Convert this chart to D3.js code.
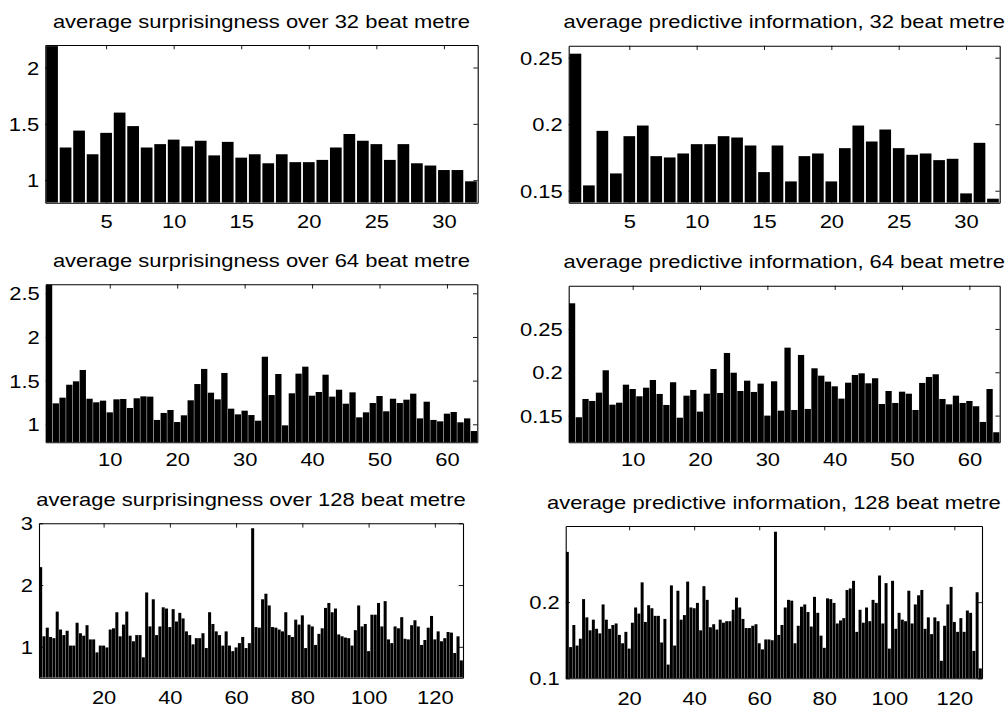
<!DOCTYPE html>
<html>
<head>
<meta charset="utf-8">
<script src="https://cdn.jsdelivr.net/npm/d3@7"></script>
<style>
  body { margin: 0; background: #fff; }
  svg { display: block; }
</style>
</head>
<body>
<svg id="fig" width="1008" height="709"></svg>
<script>
// Average surprisingness and predictive information per metrical position
const surprise32 = [2.19, 1.29, 1.44, 1.23, 1.42, 1.60, 1.48, 1.29, 1.32, 1.36, 1.30, 1.35, 1.22, 1.34, 1.20, 1.23,
  1.15, 1.23, 1.16, 1.16, 1.18, 1.29, 1.41, 1.35, 1.32, 1.18, 1.32, 1.15, 1.13, 1.09, 1.09, 0.99];

const predInfo32 = [0.253, 0.154, 0.195, 0.163, 0.191, 0.199, 0.176, 0.175, 0.178, 0.185, 0.185, 0.191, 0.190, 0.184, 0.164, 0.184,
  0.157, 0.176, 0.178, 0.157, 0.182, 0.199, 0.187, 0.196, 0.182, 0.177, 0.178, 0.173, 0.174, 0.148, 0.186, 0.144];

const surprise64 = [2.60, 1.24, 1.305, 1.453, 1.492, 1.622, 1.293, 1.252, 1.271, 1.137, 1.286, 1.29, 1.187, 1.298, 1.32, 1.317,
  1.05, 1.13, 1.164, 1.026, 1.103, 1.275, 1.461, 1.634, 1.362, 1.286, 1.588, 1.179, 1.114, 1.156, 1.106, 1.041,
  1.774, 1.335, 1.576, 0.988, 1.355, 1.58, 1.66, 1.328, 1.37, 1.568, 1.317, 1.396, 1.236, 1.366, 1.08, 1.137,
  1.244, 1.324, 1.149, 1.293, 1.244, 1.282, 1.351, 1.068, 1.259, 1.05, 1.034, 1.122, 1.141, 1.023, 1.068, 0.923];

const predInfo64 = [0.2796, 0.1481, 0.1692, 0.1669, 0.1765, 0.2023, 0.1626, 0.1649, 0.1857, 0.1807, 0.1723, 0.1822, 0.1911, 0.175, 0.1623, 0.1885,
  0.1476, 0.173, 0.1796, 0.1546, 0.1753, 0.2038, 0.1761, 0.2223, 0.1995, 0.1784, 0.1903, 0.1773, 0.1869, 0.150, 0.1896, 0.1557,
  0.2284, 0.1565, 0.220, 0.1577, 0.2046, 0.1961, 0.1892, 0.1838, 0.1696, 0.188, 0.1969, 0.1988, 0.1873, 0.1931, 0.1634, 0.1784,
  0.1646, 0.1776, 0.1753, 0.1565, 0.1877, 0.1946, 0.1977, 0.1692, 0.163, 0.173, 0.1646, 0.1669, 0.1608, 0.1427, 0.1807, 0.1308];

const surprise128 = [2.29, 1.17, 1.31, 1.16, 1.14, 1.57, 1.28, 1.19, 1.26, 1.02, 1.02, 1.39, 1.22, 1.18, 1.35, 1.12,
  1.12, 0.91, 1.02, 1.02, 0.99, 1.28, 1.30, 1.56, 1.17, 1.36, 1.57, 1.18, 1.09, 1.19, 1.19, 0.83,
  1.88, 1.33, 1.77, 1.19, 1.33, 1.64, 1.62, 1.32, 1.61, 1.41, 1.55, 1.46, 1.25, 1.19, 1.04, 1.14,
  1.14, 1.22, 0.98, 1.56, 1.37, 1.25, 1.19, 1.02, 1.25, 1.02, 0.93, 0.99, 1.06, 1.16, 0.98, 1.06,
  2.92, 1.32, 1.31, 1.77, 1.86, 1.67, 1.32, 1.31, 1.28, 1.25, 1.56, 1.19, 1.16, 1.44, 1.36, 1.51,
  0.98, 1.36, 1.33, 1.03, 1.21, 1.30, 1.63, 1.71, 1.56, 1.62, 1.20, 1.17, 1.15, 1.14, 1.02, 1.27,
  1.67, 1.33, 1.37, 0.93, 1.52, 1.52, 1.71, 1.33, 1.74, 1.12, 1.06, 1.33, 1.30, 1.48, 1.13, 1.12,
  1.35, 1.43, 1.33, 1.03, 1.11, 1.31, 1.50, 1.12, 1.25, 1.09, 1.14, 1.24, 1.23, 0.90, 1.17, 0.78];

const predInfo128 = [0.266, 0.141, 0.170, 0.143, 0.152, 0.204, 0.180, 0.163, 0.177, 0.165, 0.159, 0.197, 0.177, 0.165, 0.170, 0.172,
  0.157, 0.146, 0.161, 0.139, 0.173, 0.193, 0.185, 0.226, 0.174, 0.196, 0.192, 0.182, 0.182, 0.147, 0.178, 0.118,
  0.222, 0.143, 0.215, 0.177, 0.183, 0.227, 0.193, 0.192, 0.199, 0.163, 0.221, 0.203, 0.167, 0.171, 0.164, 0.177,
  0.173, 0.175, 0.175, 0.190, 0.206, 0.193, 0.178, 0.166, 0.166, 0.169, 0.171, 0.146, 0.138, 0.151, 0.151, 0.150,
  0.2925, 0.157, 0.170, 0.193, 0.203, 0.202, 0.146, 0.169, 0.194, 0.197, 0.187, 0.168, 0.207, 0.186, 0.156, 0.140,
  0.205, 0.204, 0.199, 0.172, 0.176, 0.179, 0.216, 0.218, 0.228, 0.161, 0.190, 0.173, 0.193, 0.175, 0.203, 0.199,
  0.235, 0.172, 0.225, 0.139, 0.228, 0.165, 0.186, 0.177, 0.175, 0.215, 0.172, 0.197, 0.209, 0.216, 0.165, 0.180,
  0.158, 0.180, 0.175, 0.123, 0.169, 0.197, 0.220, 0.174, 0.161, 0.179, 0.161, 0.189, 0.186, 0.136, 0.213, 0.113];

const titles = [
  "average surprisingness over 32 beat metre",
  "average predictive information, 32 beat metre",
  "average surprisingness over 64 beat metre",
  "average predictive information, 64 beat metre",
  "average surprisingness over 128 beat metre",
  "average predictive information, 128 beat metre"
];

const xTicks32 = [5, 10, 15, 20, 25, 30];
const xTicks64 = [10, 20, 30, 40, 50, 60];
const xTicks128 = [20, 40, 60, 80, 100, 120];
const yTicksSurprise32 = [1, 1.5, 2];
const yTicksPredInfo32 = [0.15, 0.2, 0.25];
const yTicksSurprise64 = [1, 1.5, 2, 2.5];
const yTicksPredInfo64 = [0.15, 0.2, 0.25];
const yTicksSurprise128 = [1, 2, 3];
const yTicksPredInfo128 = [0.1, 0.2];

// Layout of the six axes (pixel box: left, top, right, bottom)
const panels = [
  { values: surprise32,  title: titles[0], xTicks: xTicks32,  yTicks: yTicksSurprise32,  yRange: [0.8, 2.2],      box: [45.3, 45, 477.7, 202.7],   labelGap: 12.4 },
  { values: predInfo32,  title: titles[1], xTicks: xTicks32,  yTicks: yTicksPredInfo32,  yRange: [0.141, 0.259],  box: [568.7, 45.7, 999.7, 202.7], labelGap: 12.4 },
  { values: surprise64,  title: titles[2], xTicks: xTicks64,  yTicks: yTicksSurprise64,  yRange: [0.794, 2.603],  box: [45.7, 284.3, 477.3, 442.3], labelGap: 11.4 },
  { values: predInfo64,  title: titles[3], xTicks: xTicks64,  yTicks: yTicksPredInfo64,  yRange: [0.1192, 0.2999], box: [568.7, 285.7, 999.7, 442.3], labelGap: 11.4 },
  { values: surprise128, title: titles[4], xTicks: xTicks128, yTicks: yTicksSurprise128, yRange: [0.5, 3],        box: [39, 523.3, 463, 677.7],    labelGap: 14 },
  { values: predInfo128, title: titles[5], xTicks: xTicks128, yTicks: yTicksPredInfo128, yRange: [0.1, 0.3],      box: [565.7, 526, 982, 678.3],   labelGap: 14 }
];

const FONT = "'Liberation Sans', Arial, Helvetica, sans-serif";
const FONT_SIZE = 18;
const STRETCH = 1.22;   // glyphs are drawn wider than tall
const TICK = 4.3;

const svg = d3.select("#fig");

panels.forEach((p, i) => {
  const [x0, y0, x1, y1] = p.box;
  const n = p.values.length;
  const x = d3.scaleLinear().domain([0.5, n + 0.5]).range([x0, x1]);
  const y = d3.scaleLinear().domain(p.yRange).range([y1, y0]);
  const step = x(2) - x(1);
  const gap = Math.max(0.2 * step - 0.9, 0.28);

  const g = svg.append("g").attr("class", "panel-" + i);

  const clipId = "clip-" + i;
  g.append("clipPath").attr("id", clipId)
    .append("rect").attr("x", x0).attr("y", y0).attr("width", x1 - x0).attr("height", y1 - y0);

  // bars
  g.append("g").attr("clip-path", `url(#${clipId})`)
    .selectAll("rect").data(p.values).join("rect")
    .attr("x", (d, k) => x(k + 1) - (step - gap) / 2)
    .attr("width", step - gap)
    .attr("y", d => y(d))
    .attr("height", d => y(p.yRange[0]) - y(d))
    .attr("fill", "#000");

  const styleAxis = sel => {
    sel.attr("font-family", FONT).attr("font-size", FONT_SIZE);
    sel.selectAll("path.domain").attr("stroke", "#000").attr("stroke-width", 1.1);
    sel.selectAll(".tick line").attr("stroke", "#000").attr("stroke-width", 0.9);
    sel.selectAll(".tick text").attr("fill", "#000");
  };

  // bottom axis with labels
  const gb = g.append("g").attr("transform", `translate(0,${y1})`)
    .call(d3.axisBottom(x).tickValues(p.xTicks).tickSizeInner(-TICK).tickSizeOuter(0)
      .tickPadding(p.labelGap).tickFormat(d3.format("d")));
  styleAxis(gb);
  gb.selectAll(".tick text").attr("transform", `scale(${STRETCH},1)`);

  // top axis, ticks only
  const gt = g.append("g").attr("transform", `translate(0,${y0})`)
    .call(d3.axisTop(x).tickValues(p.xTicks).tickSizeInner(-TICK).tickSizeOuter(0).tickFormat(""));
  styleAxis(gt);

  // left axis with labels
  const gl = g.append("g").attr("transform", `translate(${x0},0)`)
    .call(d3.axisLeft(y).tickValues(p.yTicks).tickSizeInner(-TICK).tickSizeOuter(0)
      .tickPadding(6 / STRETCH).tickFormat(v => String(+v.toFixed(3))));
  styleAxis(gl);
  gl.selectAll(".tick text").attr("dy", "0.36em").attr("transform", `scale(${STRETCH},1)`);

  // right axis, ticks only
  const gr = g.append("g").attr("transform", `translate(${x1},0)`)
    .call(d3.axisRight(y).tickValues(p.yTicks).tickSizeInner(-TICK).tickSizeOuter(0).tickFormat(""));
  styleAxis(gr);

  // title
  g.append("text")
    .attr("transform", `translate(${(x0 + x1) / 2},${y0 - 17.5}) scale(${STRETCH},1)`)
    .attr("text-anchor", "middle")
    .attr("font-family", FONT)
    .attr("font-size", FONT_SIZE)
    .attr("fill", "#000")
    .text(p.title);
});
</script>
</body>
</html>
